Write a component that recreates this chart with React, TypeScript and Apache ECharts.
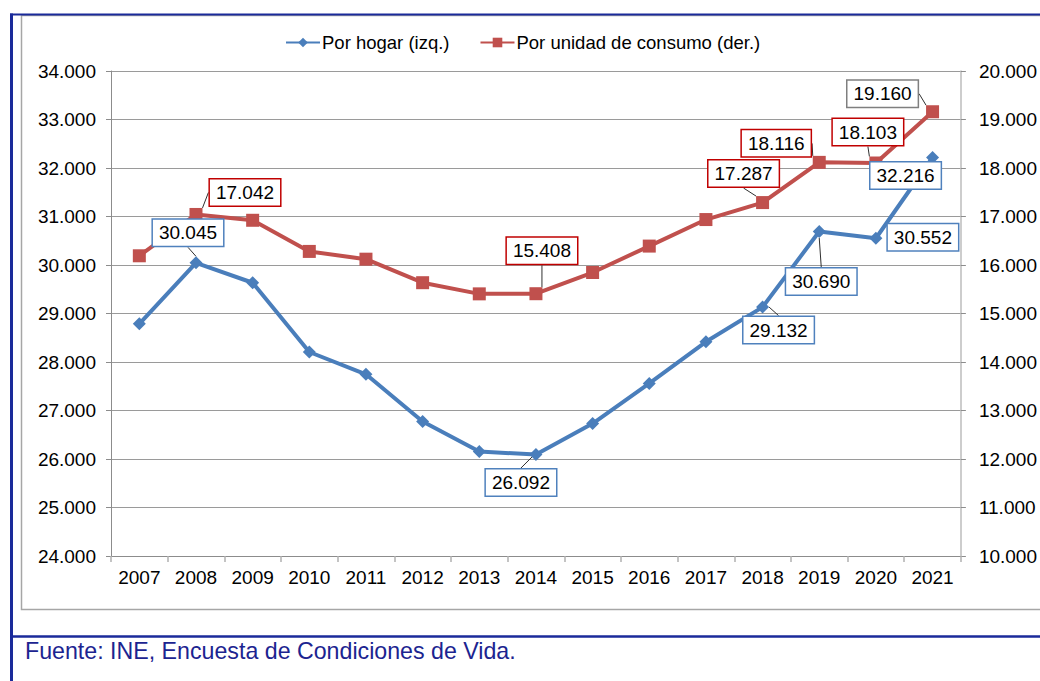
import React, { useEffect, useRef } from "react";
import * as echarts from "echarts";

const years = ["2007", "2008", "2009", "2010", "2011", "2012", "2013", "2014", "2015", "2016", "2017", "2018", "2019", "2020", "2021"];
const hogar = [28787, 30045, 29634, 28206, 27747, 26775, 26154, 26092, 26730, 27558, 28417, 29132, 30690, 30552, 32216];
const unidad = [16190, 17042, 16922, 16280, 16120, 15635, 15405, 15408, 15845, 16390, 16937, 17287, 18116, 18103, 19160];
const leftTicks = { min: 24000, max: 34000, interval: 1000 };
const rightTicks = { min: 10000, max: 20000, interval: 1000 };

// label placement offsets (px from the point), by data index
const hogarLabelOffset: Record<number, [number, number]> = {
  1: [-8, -30], 7: [-15, 28], 11: [16, 23], 12: [2, 50], 13: [47, -1], 14: [-27, 18],
};
const unidadLabelOffset: Record<number, [number, number]> = {
  1: [49, -22], 7: [6, -43], 11: [-19, -29], 12: [-43, -19], 13: [-8, -31], 14: [-50, -18],
};

const FONT = "'Liberation Sans', Arial, sans-serif";
const BLUE = "#4A7EBB";
const RED = "#C0504D";
const fmt = (v: number) => (v / 1000).toFixed(3);

export default function App() {
  const ref = useRef<HTMLDivElement>(null);
  useEffect(() => {
    if (!ref.current) return;
    const chart = echarts.init(ref.current, null, { renderer: "svg" });
    const mkData = (vals: number[], offs: Record<number, [number, number]>, border: (i: number) => string, noLine: number[]) =>
      vals.map((v, i) =>
        offs[i]
          ? {
              value: v,
              label: { show: true, borderColor: border(i) },
              labelLine: { show: noLine.indexOf(i) < 0 },
            }
          : { value: v }
      );
    const labelBase = {
      show: false,
      position: "inside",
      formatter: (p: any) => fmt(p.value),
      backgroundColor: "#ffffff",
      borderWidth: 1.5,
      padding: [4, 6, 3, 6],
      color: "#000",
      fontSize: 19,
      fontFamily: FONT,
    };
    const option: any = {
      animation: false,
      textStyle: { fontFamily: FONT },
      legend: {
        left: 285,
        top: 33,
        padding: 0,
        itemWidth: 34,
        itemHeight: 12,
        itemGap: 30,
        textStyle: { fontSize: 18.5, color: "#000", fontFamily: FONT, padding: [0, 0, 0, -3] },
        data: ["Por hogar (izq.)", "Por unidad de consumo (der.)"],
      },
      grid: { left: 111, right: 75, top: 71, bottom: 125, containLabel: false },
      xAxis: {
        type: "category",
        data: years,
        boundaryGap: true,
        axisLine: { lineStyle: { color: "#8c8c8c", width: 1 } },
        axisTick: { show: true, length: 6, interval: 0, lineStyle: { color: "#b0b0b0", width: 1.5 } },
        axisLabel: { color: "#000", fontSize: 19, margin: 12, interval: 0, fontFamily: FONT },
      },
      yAxis: [
        {
          type: "value",
          ...leftTicks,
          position: "left",
          axisLine: { show: true, lineStyle: { color: "#8c8c8c" } },
          axisTick: { show: true, length: 5, lineStyle: { color: "#8c8c8c" } },
          splitLine: { show: true, lineStyle: { color: "#9a9a9a", width: 1 } },
          axisLabel: { color: "#000", fontSize: 19, margin: 15, formatter: (v: number) => fmt(v), fontFamily: FONT },
        },
        {
          type: "value",
          ...rightTicks,
          position: "right",
          axisLine: { show: true, lineStyle: { color: "#bdbdbd", width: 1.5 } },
          axisTick: { show: true, length: 5, lineStyle: { color: "#8c8c8c" } },
          splitLine: { show: false },
          axisLabel: { color: "#000", fontSize: 19, margin: 18, formatter: (v: number) => fmt(v), fontFamily: FONT },
        },
      ],
      series: [
        {
          name: "Por unidad de consumo (der.)",
          type: "line",
          yAxisIndex: 1,
          data: mkData(unidad, unidadLabelOffset, (i) => (i === 14 ? "#7f7f7f" : "#C00000"), []),
          symbol: "rect",
          symbolSize: 13,
          lineStyle: { color: RED, width: 4 },
          itemStyle: { color: RED },
          label: labelBase,
          labelLine: { show: true, length2: 0, lineStyle: { color: "#303030", width: 1 } },
          labelLayout: (p: any) => {
            const o = unidadLabelOffset[p.dataIndex];
            return o ? { dx: o[0], dy: o[1], hideOverlap: false } : {};
          },
          z: 2,
        },
        {
          name: "Por hogar (izq.)",
          type: "line",
          yAxisIndex: 0,
          data: mkData(hogar, hogarLabelOffset, () => "#4F81BD", [13, 14]),
          symbol: "diamond",
          symbolSize: 13,
          lineStyle: { color: BLUE, width: 4 },
          itemStyle: { color: BLUE },
          label: labelBase,
          labelLine: { show: true, length2: 0, lineStyle: { color: "#303030", width: 1 } },
          labelLayout: (p: any) => {
            const o = hogarLabelOffset[p.dataIndex];
            return o ? { dx: o[0], dy: o[1], hideOverlap: false } : {};
          },
          z: 3,
        },
      ],
      graphic: [
        {
          type: "rect",
          silent: true,
          shape: { x: 21.5, y: 15.5, width: 1040, height: 594 },
          style: { fill: "none", stroke: "#a6a6a6", lineWidth: 1.5 },
          z: -1,
        },
        {
          type: "line",
          silent: true,
          shape: { x1: 10, y1: 14.5, x2: 1040, y2: 14.5 },
          style: { stroke: "#1a2a9a", lineWidth: 2 },
        },
        {
          type: "line",
          silent: true,
          shape: { x1: 11.5, y1: 13.5, x2: 11.5, y2: 681 },
          style: { stroke: "#1a2a9a", lineWidth: 3 },
        },
        {
          type: "line",
          silent: true,
          shape: { x1: 10, y1: 636.5, x2: 1040, y2: 636.5 },
          style: { stroke: "#1a2a9a", lineWidth: 2.5 },
        },
        {
          type: "text",
          silent: true,
          x: 25,
          y: 662,
          style: {
            text: "Fuente: INE, Encuesta de Condiciones de Vida.",
            fill: "#1c2490",
            font: "23.2px 'Liberation Sans', Arial, sans-serif",
            textVerticalAlign: "bottom",
            verticalAlign: "alphabetic",
          },
        },
      ],
    };
    chart.setOption(option);
    return () => chart.dispose();
  }, []);
  return <div ref={ref} style={{ position: "fixed", left: 0, top: 0, width: 1040, height: 681, background: "#fff" }} />;
}
